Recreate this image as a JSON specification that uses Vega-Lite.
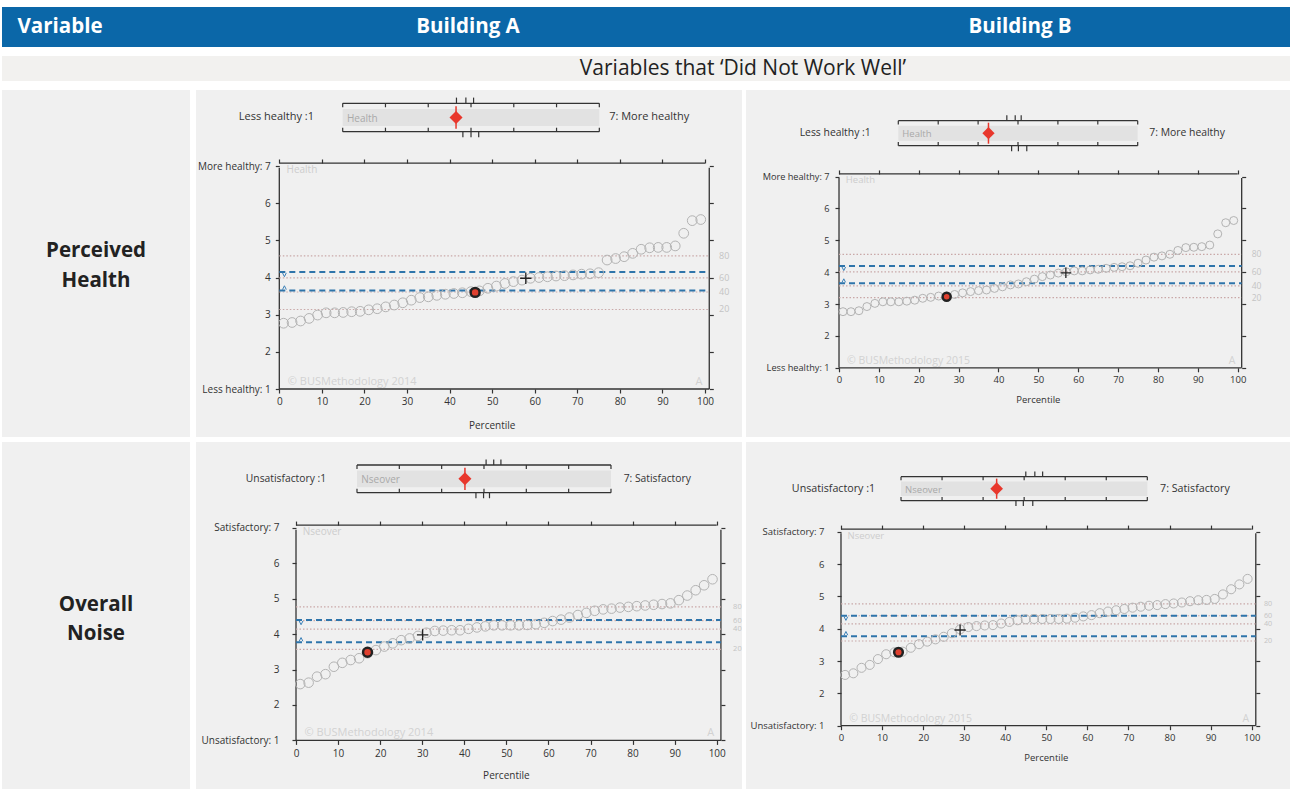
{
"$schema": "https://vega.github.io/schema/vega-lite/v6.json",
"background": "#ffffff",
"padding": {"left": 2, "top": 7, "right": 2, "bottom": 0},
"config": {"view": {"stroke": null}, "font": "Open Sans", "text": {"font": "Open Sans"}, "axis": {"labelFont": "Open Sans", "titleFont": "Open Sans"}},
"datasets": {
"ticks7": [{"t":1},{"t":2},{"t":3},{"t":4},{"t":5},{"t":6},{"t":7}],
"c1a": [{"p":1,"v":2.77},{"p":3,"v":2.79},{"p":5,"v":2.83},{"p":7,"v":2.90},{"p":9,"v":2.99},{"p":11,"v":3.05},{"p":13,"v":3.05},{"p":15,"v":3.06},{"p":17,"v":3.08},{"p":19,"v":3.09},{"p":21,"v":3.13},{"p":23,"v":3.16},{"p":25,"v":3.21},{"p":27,"v":3.26},{"p":29,"v":3.32},{"p":31,"v":3.39},{"p":33,"v":3.46},{"p":35,"v":3.48},{"p":37,"v":3.52},{"p":39,"v":3.55},{"p":41,"v":3.57},{"p":43,"v":3.59},{"p":45,"v":3.62},{"p":47,"v":3.64},{"p":49,"v":3.71},{"p":51,"v":3.77},{"p":53,"v":3.84},{"p":55,"v":3.89},{"p":57,"v":3.93},{"p":59,"v":3.98},{"p":61,"v":4.00},{"p":63,"v":4.02},{"p":65,"v":4.04},{"p":67,"v":4.05},{"p":69,"v":4.07},{"p":71,"v":4.09},{"p":73,"v":4.10},{"p":75,"v":4.13},{"p":77,"v":4.47},{"p":79,"v":4.51},{"p":81,"v":4.56},{"p":83,"v":4.65},{"p":85,"v":4.76},{"p":87,"v":4.80},{"p":89,"v":4.81},{"p":91,"v":4.81},{"p":93,"v":4.85},{"p":95,"v":5.19},{"p":97,"v":5.53},{"p":99,"v":5.56}],
"c1b": [{"p":1,"v":2.76},{"p":3,"v":2.76},{"p":5,"v":2.79},{"p":7,"v":2.92},{"p":9,"v":3.02},{"p":11,"v":3.07},{"p":13,"v":3.07},{"p":15,"v":3.07},{"p":17,"v":3.09},{"p":19,"v":3.12},{"p":21,"v":3.18},{"p":23,"v":3.21},{"p":25,"v":3.25},{"p":27,"v":3.25},{"p":29,"v":3.30},{"p":31,"v":3.35},{"p":33,"v":3.39},{"p":35,"v":3.42},{"p":37,"v":3.44},{"p":39,"v":3.49},{"p":41,"v":3.54},{"p":43,"v":3.60},{"p":45,"v":3.63},{"p":47,"v":3.70},{"p":49,"v":3.78},{"p":51,"v":3.86},{"p":53,"v":3.91},{"p":55,"v":3.97},{"p":57,"v":4.01},{"p":59,"v":4.04},{"p":61,"v":4.04},{"p":63,"v":4.07},{"p":65,"v":4.09},{"p":67,"v":4.12},{"p":69,"v":4.15},{"p":71,"v":4.17},{"p":73,"v":4.20},{"p":75,"v":4.28},{"p":77,"v":4.38},{"p":79,"v":4.47},{"p":81,"v":4.51},{"p":83,"v":4.56},{"p":85,"v":4.68},{"p":87,"v":4.77},{"p":89,"v":4.78},{"p":91,"v":4.80},{"p":93,"v":4.85},{"p":95,"v":5.20},{"p":97,"v":5.55},{"p":99,"v":5.62}],
"c2a": [{"p":1,"v":2.59},{"p":3,"v":2.63},{"p":5,"v":2.80},{"p":7,"v":2.87},{"p":9,"v":3.08},{"p":11,"v":3.19},{"p":13,"v":3.27},{"p":15,"v":3.32},{"p":17,"v":3.46},{"p":19,"v":3.55},{"p":21,"v":3.65},{"p":23,"v":3.74},{"p":25,"v":3.83},{"p":27,"v":3.88},{"p":29,"v":3.95},{"p":31,"v":4.04},{"p":33,"v":4.09},{"p":35,"v":4.10},{"p":37,"v":4.11},{"p":39,"v":4.11},{"p":41,"v":4.15},{"p":43,"v":4.19},{"p":45,"v":4.22},{"p":47,"v":4.25},{"p":49,"v":4.25},{"p":51,"v":4.25},{"p":53,"v":4.25},{"p":55,"v":4.26},{"p":57,"v":4.28},{"p":59,"v":4.32},{"p":61,"v":4.37},{"p":63,"v":4.41},{"p":65,"v":4.47},{"p":67,"v":4.54},{"p":69,"v":4.60},{"p":71,"v":4.66},{"p":73,"v":4.70},{"p":75,"v":4.72},{"p":77,"v":4.75},{"p":79,"v":4.77},{"p":81,"v":4.79},{"p":83,"v":4.81},{"p":85,"v":4.83},{"p":87,"v":4.85},{"p":89,"v":4.87},{"p":91,"v":4.96},{"p":93,"v":5.09},{"p":95,"v":5.24},{"p":97,"v":5.38},{"p":99,"v":5.55}],
"c2b": [{"p":1,"v":2.57},{"p":3,"v":2.62},{"p":5,"v":2.79},{"p":7,"v":2.88},{"p":9,"v":3.06},{"p":11,"v":3.21},{"p":13,"v":3.27},{"p":15,"v":3.29},{"p":17,"v":3.41},{"p":19,"v":3.52},{"p":21,"v":3.60},{"p":23,"v":3.67},{"p":25,"v":3.75},{"p":27,"v":3.86},{"p":29,"v":3.98},{"p":31,"v":4.05},{"p":33,"v":4.08},{"p":35,"v":4.10},{"p":37,"v":4.11},{"p":39,"v":4.16},{"p":41,"v":4.21},{"p":43,"v":4.26},{"p":45,"v":4.29},{"p":47,"v":4.30},{"p":49,"v":4.30},{"p":51,"v":4.30},{"p":53,"v":4.30},{"p":55,"v":4.31},{"p":57,"v":4.34},{"p":59,"v":4.38},{"p":61,"v":4.42},{"p":63,"v":4.48},{"p":65,"v":4.53},{"p":67,"v":4.57},{"p":69,"v":4.61},{"p":71,"v":4.65},{"p":73,"v":4.68},{"p":75,"v":4.71},{"p":77,"v":4.73},{"p":79,"v":4.76},{"p":81,"v":4.78},{"p":83,"v":4.81},{"p":85,"v":4.85},{"p":87,"v":4.88},{"p":89,"v":4.89},{"p":91,"v":4.92},{"p":93,"v":5.06},{"p":95,"v":5.22},{"p":97,"v":5.37},{"p":99,"v":5.54}]
},
"spacing": 9,
"vconcat": [
{"spacing": 0, "hconcat": [
 {"width": 116, "height": 40, "view": {"fill": "#0b67a8", "stroke": null}, "data": {"values": [{"t": "Variable"}]}, "mark": {"type": "text", "color": "#ffffff", "fontSize": 20.5, "fontWeight": "bold"}, "encoding": {"text": {"field": "t"}}},
 {"width": 700, "height": 40, "view": {"fill": "#0b67a8", "stroke": null}, "data": {"values": [{"t": "Building A"}]}, "mark": {"type": "text", "color": "#ffffff", "fontSize": 20.5, "fontWeight": "bold"}, "encoding": {"text": {"field": "t"}}},
 {"width": 404, "height": 40, "view": {"fill": "#0b67a8", "stroke": null}, "data": {"values": [{"t": "Building B"}]}, "mark": {"type": "text", "color": "#ffffff", "fontSize": 20.5, "fontWeight": "bold"}, "encoding": {"text": {"field": "t"}}},
 {"width": 68, "height": 40, "view": {"fill": "#0b67a8", "stroke": null}, "data": {"values": [{"t": ""}]}, "mark": {"type": "text", "color": "#ffffff"}, "encoding": {"text": {"field": "t"}}}
]},
{"spacing": 0, "hconcat": [
 {"width": 194, "height": 25, "view": {"fill": "#f2f1ef", "stroke": null}, "data": {"values": [{"t": ""}]}, "mark": {"type": "text"}, "encoding": {"text": {"field": "t"}}},
 {"width": 1094, "height": 25, "view": {"fill": "#f2f1ef", "stroke": null}, "data": {"values": [{"t": "Variables that ‘Did Not Work Well’"}]}, "mark": {"type": "text", "color": "#222222", "fontSize": 21}, "encoding": {"text": {"field": "t"}}}
]},
{"spacing": 5, "vconcat": [
 {"spacing": 6, "hconcat": [
  {"width": 188, "height": 347, "view": {"fill": "#f0f0f0", "stroke": null}, "data": {"values": [{"t": ["Perceived", "Health"]}]}, "mark": {"type": "text", "color": "#222222", "fontSize": 20.5, "fontWeight": "bold", "lineHeight": 30, "dy": -13}, "encoding": {"text": {"field": "t"}}},
  {"spacing": 4, "hconcat": [
   {"spacing": 0, "vconcat": [
    {"width": 546, "height": 62, "view": {"fill": "#f0f0f0", "stroke": null},
     "data": {"values": [{"m": 3.65, "lo": "Less healthy :1", "hi": "7: More healthy", "var": "Health"}]},
     "layer": [
      {"mark": {"type": "rect", "color": "#e2e2e2"}, "encoding": {"x": {"datum": 1, "type": "quantitative", "scale": {"domain": [-2.43, 10.336], "nice": false, "zero": false}, "axis": null}, "x2": {"datum": 7}, "y": {"datum": 0.2, "type": "quantitative", "scale": {"domain": [-0.715, 1.468], "nice": false, "zero": false}, "axis": null}, "y2": {"datum": 0.8}}},
      {"mark": {"type": "rule", "color": "#333333", "strokeWidth": 1.3}, "encoding": {"x": {"datum": 1, "type": "quantitative", "axis": null}, "x2": {"datum": 7}, "y": {"datum": 1, "type": "quantitative", "axis": null}}},
      {"mark": {"type": "rule", "color": "#333333", "strokeWidth": 1.3}, "encoding": {"x": {"datum": 1, "type": "quantitative", "axis": null}, "x2": {"datum": 7}, "y": {"datum": 0, "type": "quantitative", "axis": null}}},
      {"data": {"name": "ticks7"}, "mark": {"type": "rule", "color": "#333333", "strokeWidth": 1.2}, "encoding": {"x": {"field": "t", "type": "quantitative", "axis": null}, "y": {"datum": 1, "type": "quantitative", "axis": null}, "y2": {"datum": 0.86}}},
      {"data": {"name": "ticks7"}, "mark": {"type": "rule", "color": "#333333", "strokeWidth": 1.2}, "encoding": {"x": {"field": "t", "type": "quantitative", "axis": null}, "y": {"datum": 0, "type": "quantitative", "axis": null}, "y2": {"datum": 0.14}}},
      {"data": {"values": [{"v": 3.66}, {"v": 3.88}, {"v": 4.06}]}, "mark": {"type": "rule", "color": "#333333", "strokeWidth": 1.2}, "encoding": {"x": {"field": "v", "type": "quantitative", "axis": null}, "y": {"datum": 1, "type": "quantitative", "axis": null}, "y2": {"datum": 1.2}}},
      {"data": {"values": [{"v": 3.81}, {"v": 4.0}, {"v": 4.18}]}, "mark": {"type": "rule", "color": "#333333", "strokeWidth": 1.2}, "encoding": {"x": {"field": "v", "type": "quantitative", "axis": null}, "y": {"datum": 0, "type": "quantitative", "axis": null}, "y2": {"datum": -0.2}}},
      {"mark": {"type": "rule", "color": "#e8372c", "strokeWidth": 1.5}, "encoding": {"x": {"field": "m", "type": "quantitative", "axis": null}, "y": {"datum": 0.1, "type": "quantitative", "axis": null}, "y2": {"datum": 0.9}}},
      {"mark": {"type": "point", "shape": "diamond", "filled": true, "color": "#e8372c", "size": 170, "opacity": 1}, "encoding": {"x": {"field": "m", "type": "quantitative", "axis": null}, "y": {"datum": 0.5, "type": "quantitative", "axis": null}}},
      {"mark": {"type": "text", "align": "right", "fontSize": 11, "color": "#333333"}, "encoding": {"x": {"datum": 0.33, "type": "quantitative", "axis": null}, "y": {"datum": 0.5, "type": "quantitative", "axis": null}, "text": {"field": "lo"}}},
      {"mark": {"type": "text", "align": "left", "fontSize": 11, "color": "#333333"}, "encoding": {"x": {"datum": 7.23, "type": "quantitative", "axis": null}, "y": {"datum": 0.5, "type": "quantitative", "axis": null}, "text": {"field": "hi"}}},
      {"mark": {"type": "text", "align": "left", "fontSize": 10, "color": "#a9a9a9"}, "encoding": {"x": {"datum": 1.1, "type": "quantitative", "axis": null}, "y": {"datum": 0.45, "type": "quantitative", "axis": null}, "text": {"field": "var"}}}
     ]},
    {"width": 546, "height": 285, "view": {"fill": "#f0f0f0", "stroke": null},
     "data": {"values": [{"var": "Health", "copy": "© BUSMethodology 2014", "corner": "A", "xt": "Percentile"}]},
     "resolve": {"axis": {"x": "independent", "y": "independent"}},
     "layer": [
      {"mark": {"type": "rule", "color": "#333333", "strokeWidth": 1.3}, "encoding": {
        "x": {"datum": 0, "type": "quantitative", "scale": {"domain": [-19.57, 108.69], "nice": false, "zero": false}, "axis": {"orient": "bottom", "offset": -48, "values": [0,10,20,30,40,50,60,70,80,90,100], "domain": false, "grid": false, "title": null, "tickSize": 4, "tickColor": "#333333", "tickWidth": 1.2, "labelFontSize": 10, "labelColor": "#333333", "labelPadding": 3, "labelOverlap": false, "labelFlush": false}},
        "y": {"datum": 1, "type": "quantitative", "scale": {"domain": [-0.291, 7.377], "nice": false, "zero": false}, "axis": {"orient": "left", "offset": -83.3, "values": [1,2,3,4,5,6,7], "labelExpr": "datum.value == 7 ? 'More healthy: 7' : datum.value == 1 ? 'Less healthy: 1' : datum.label", "domain": false, "grid": false, "title": null, "tickSize": 4, "tickColor": "#333333", "tickWidth": 1.2, "labelFontSize": 10, "labelColor": "#333333", "labelPadding": 5, "labelOverlap": false}},
        "y2": {"datum": 6.95}}},
      {"mark": {"type": "rule", "color": "#333333", "strokeWidth": 1.3}, "encoding": {
        "x": {"datum": 101, "type": "quantitative", "axis": {"orient": "top", "offset": -11, "values": [0,10,20,30,40,50,60,70,80,90,100], "labels": false, "domain": false, "grid": false, "title": null, "tickSize": 4, "tickColor": "#333333", "tickWidth": 1.2}},
        "y": {"datum": 1, "type": "quantitative", "axis": {"orient": "right", "offset": -32.7, "values": [1,2,3,4,5,6,7], "labels": false, "domain": false, "grid": false, "title": null, "tickSize": 4, "tickColor": "#333333", "tickWidth": 1.2}},
        "y2": {"datum": 6.95}}},
      {"mark": {"type": "rule", "color": "#333333", "strokeWidth": 1.3}, "encoding": {"x": {"datum": 0, "type": "quantitative", "axis": null}, "x2": {"datum": 101}, "y": {"datum": 1, "type": "quantitative", "axis": null}}},
      {"mark": {"type": "rule", "color": "#333333", "strokeWidth": 1.3}, "encoding": {"x": {"datum": 0, "type": "quantitative", "axis": null}, "x2": {"datum": 100}, "y": {"datum": 7.08, "type": "quantitative", "axis": null}}},
      {"data": {"values": [{"pct": "80", "v": 4.58}, {"pct": "60", "v": 3.99}, {"pct": "40", "v": 3.61}, {"pct": "20", "v": 3.14}]}, "layer": [
        {"mark": {"type": "rule", "color": "#c9a8a8", "strokeWidth": 1.2, "strokeDash": [1.5, 2]}, "encoding": {"x": {"datum": 0, "type": "quantitative", "axis": null}, "x2": {"datum": 101}, "y": {"field": "v", "type": "quantitative", "axis": null}}},
        {"mark": {"type": "text", "align": "left", "fontSize": 9, "color": "#c4c4c4", "clip": true}, "encoding": {"x": {"datum": 103.3, "type": "quantitative", "axis": null}, "y": {"field": "v", "type": "quantitative", "axis": null}, "text": {"field": "pct"}}}
      ]},
      {"data": {"values": [{"v": 4.15, "dir": "upper"}, {"v": 3.65, "dir": "lower"}]}, "layer": [
        {"mark": {"type": "rule", "color": "#2e74aa", "strokeWidth": 2, "strokeDash": [6, 4]}, "encoding": {"x": {"datum": 0, "type": "quantitative", "axis": null}, "x2": {"datum": 101}, "y": {"field": "v", "type": "quantitative", "axis": null}}},
        {"mark": {"type": "point", "filled": false, "color": "#3a80b8", "size": 40, "strokeWidth": 1, "opacity": 1}, "encoding": {"x": {"datum": 1.2, "type": "quantitative", "axis": null}, "y": {"field": "v", "type": "quantitative", "axis": null}, "shape": {"field": "dir", "type": "nominal", "scale": {"domain": ["upper", "lower"], "range": ["M-0.6,0.3L0,1.5L0.6,0.3", "M-0.6,-0.3L0,-1.5L0.6,-0.3"]}, "legend": null}}}
      ]},
      {"data": {"name": "c1a"}, "mark": {"type": "point", "shape": "circle", "filled": false, "color": "#b3b3b3", "size": 95, "strokeWidth": 1, "opacity": 1}, "encoding": {"x": {"field": "p", "type": "quantitative", "axis": null}, "y": {"field": "v", "type": "quantitative", "axis": null}}},
      {"data": {"values": [{"p": 46, "v": 3.60}]}, "mark": {"type": "point", "shape": "circle", "filled": true, "fill": "#e0402f", "stroke": "#222222", "strokeWidth": 2.5, "size": 80, "opacity": 1}, "encoding": {"x": {"field": "p", "type": "quantitative", "axis": null}, "y": {"field": "v", "type": "quantitative", "axis": null}}},
      {"data": {"values": [{"p": 57.9, "v": 3.98}]}, "mark": {"type": "point", "shape": "M-1,0L1,0M0,-1L0,1", "filled": false, "color": "#222222", "size": 130, "strokeWidth": 1.3, "opacity": 1}, "encoding": {"x": {"field": "p", "type": "quantitative", "axis": null}, "y": {"field": "v", "type": "quantitative", "axis": null}}},
      {"mark": {"type": "text", "align": "left", "fontSize": 10, "color": "#cdcdcd"}, "encoding": {"x": {"datum": 1.7, "type": "quantitative", "axis": null}, "y": {"datum": 6.88, "type": "quantitative", "axis": null}, "text": {"field": "var"}}},
      {"mark": {"type": "text", "align": "left", "fontSize": 11, "color": "#d2d2d2"}, "encoding": {"x": {"datum": 2, "type": "quantitative", "axis": null}, "y": {"datum": 1.2, "type": "quantitative", "axis": null}, "text": {"field": "copy"}}},
      {"mark": {"type": "text", "align": "center", "fontSize": 11, "color": "#d2d2d2"}, "encoding": {"x": {"datum": 98.6, "type": "quantitative", "axis": null}, "y": {"datum": 1.2, "type": "quantitative", "axis": null}, "text": {"field": "corner"}}},
      {"mark": {"type": "text", "align": "center", "fontSize": 10, "color": "#333333"}, "encoding": {"x": {"datum": 50, "type": "quantitative", "axis": null}, "y": {"datum": 0, "type": "quantitative", "axis": null}, "text": {"field": "xt"}}}
     ]}
   ]},
   {"spacing": 0, "vconcat": [
    {"width": 544, "height": 72, "view": {"fill": "#f0f0f0", "stroke": null},
     "data": {"values": [{"m": 3.26, "lo": "Less healthy :1", "hi": "7: More healthy", "var": "Health"}]},
     "layer": [
      {"mark": {"type": "rect", "color": "#e2e2e2"}, "encoding": {"x": {"datum": 1, "type": "quantitative", "scale": {"domain": [-2.817, 10.817], "nice": false, "zero": false}, "axis": null}, "x2": {"datum": 7}, "y": {"datum": 0.2, "type": "quantitative", "scale": {"domain": [-0.652, 2.228], "nice": false, "zero": false}, "axis": null}, "y2": {"datum": 0.8}}},
      {"mark": {"type": "rule", "color": "#333333", "strokeWidth": 1.3}, "encoding": {"x": {"datum": 1, "type": "quantitative", "axis": null}, "x2": {"datum": 7}, "y": {"datum": 1, "type": "quantitative", "axis": null}}},
      {"mark": {"type": "rule", "color": "#333333", "strokeWidth": 1.3}, "encoding": {"x": {"datum": 1, "type": "quantitative", "axis": null}, "x2": {"datum": 7}, "y": {"datum": 0, "type": "quantitative", "axis": null}}},
      {"data": {"name": "ticks7"}, "mark": {"type": "rule", "color": "#333333", "strokeWidth": 1.2}, "encoding": {"x": {"field": "t", "type": "quantitative", "axis": null}, "y": {"datum": 1, "type": "quantitative", "axis": null}, "y2": {"datum": 0.85}}},
      {"data": {"name": "ticks7"}, "mark": {"type": "rule", "color": "#333333", "strokeWidth": 1.2}, "encoding": {"x": {"field": "t", "type": "quantitative", "axis": null}, "y": {"datum": 0, "type": "quantitative", "axis": null}, "y2": {"datum": 0.15}}},
      {"data": {"values": [{"v": 3.72}, {"v": 3.93}, {"v": 4.08}]}, "mark": {"type": "rule", "color": "#333333", "strokeWidth": 1.2}, "encoding": {"x": {"field": "v", "type": "quantitative", "axis": null}, "y": {"datum": 1, "type": "quantitative", "axis": null}, "y2": {"datum": 1.22}}},
      {"data": {"values": [{"v": 3.84}, {"v": 4.01}, {"v": 4.22}]}, "mark": {"type": "rule", "color": "#333333", "strokeWidth": 1.2}, "encoding": {"x": {"field": "v", "type": "quantitative", "axis": null}, "y": {"datum": 0, "type": "quantitative", "axis": null}, "y2": {"datum": -0.22}}},
      {"mark": {"type": "rule", "color": "#e8372c", "strokeWidth": 1.5}, "encoding": {"x": {"field": "m", "type": "quantitative", "axis": null}, "y": {"datum": 0.08, "type": "quantitative", "axis": null}, "y2": {"datum": 0.92}}},
      {"mark": {"type": "point", "shape": "diamond", "filled": true, "color": "#e8372c", "size": 150, "opacity": 1}, "encoding": {"x": {"field": "m", "type": "quantitative", "axis": null}, "y": {"datum": 0.5, "type": "quantitative", "axis": null}}},
      {"mark": {"type": "text", "align": "right", "fontSize": 10.4, "color": "#333333"}, "encoding": {"x": {"datum": 0.31, "type": "quantitative", "axis": null}, "y": {"datum": 0.5, "type": "quantitative", "axis": null}, "text": {"field": "lo"}}},
      {"mark": {"type": "text", "align": "left", "fontSize": 10.4, "color": "#333333"}, "encoding": {"x": {"datum": 7.29, "type": "quantitative", "axis": null}, "y": {"datum": 0.5, "type": "quantitative", "axis": null}, "text": {"field": "hi"}}},
      {"mark": {"type": "text", "align": "left", "fontSize": 9.5, "color": "#a9a9a9"}, "encoding": {"x": {"datum": 1.1, "type": "quantitative", "axis": null}, "y": {"datum": 0.45, "type": "quantitative", "axis": null}, "text": {"field": "var"}}}
     ]},
    {"width": 544, "height": 275, "view": {"fill": "#f0f0f0", "stroke": null},
     "data": {"values": [{"var": "Health", "copy": "© BUSMethodology 2015", "corner": "A", "xt": "Percentile"}]},
     "resolve": {"axis": {"x": "independent", "y": "independent"}},
     "layer": [
      {"mark": {"type": "rule", "color": "#333333", "strokeWidth": 1.3}, "encoding": {
        "x": {"datum": 0, "type": "quantitative", "scale": {"domain": [-23.33, 113.12], "nice": false, "zero": false}, "axis": {"orient": "bottom", "offset": -69.2, "values": [0,10,20,30,40,50,60,70,80,90,100], "domain": false, "grid": false, "title": null, "tickSize": 4, "tickColor": "#333333", "tickWidth": 1.2, "labelFontSize": 9.5, "labelColor": "#333333", "labelPadding": 3, "labelOverlap": false, "labelFlush": false}},
        "y": {"datum": 1, "type": "quantitative", "scale": {"domain": [-1.171, 7.455], "nice": false, "zero": false}, "axis": {"orient": "left", "offset": -93, "values": [1,2,3,4,5,6,7], "labelExpr": "datum.value == 7 ? 'More healthy: 7' : datum.value == 1 ? 'Less healthy: 1' : datum.label", "domain": false, "grid": false, "title": null, "tickSize": 4, "tickColor": "#333333", "tickWidth": 1.2, "labelFontSize": 9.2, "labelColor": "#333333", "labelPadding": 6, "labelOverlap": false}},
        "y2": {"datum": 6.95}}},
      {"mark": {"type": "rule", "color": "#333333", "strokeWidth": 1.3}, "encoding": {
        "x": {"datum": 101, "type": "quantitative", "axis": {"orient": "top", "offset": -11.95, "values": [0,10,20,30,40,50,60,70,80,90,100], "labels": false, "domain": false, "grid": false, "title": null, "tickSize": 4, "tickColor": "#333333", "tickWidth": 1.2}},
        "y": {"datum": 1, "type": "quantitative", "axis": {"orient": "right", "offset": -48.3, "values": [1,2,3,4,5,6,7], "labels": false, "domain": false, "grid": false, "title": null, "tickSize": 4, "tickColor": "#333333", "tickWidth": 1.2}},
        "y2": {"datum": 6.95}}},
      {"mark": {"type": "rule", "color": "#333333", "strokeWidth": 1.3}, "encoding": {"x": {"datum": 0, "type": "quantitative", "axis": null}, "x2": {"datum": 101}, "y": {"datum": 1, "type": "quantitative", "axis": null}}},
      {"mark": {"type": "rule", "color": "#333333", "strokeWidth": 1.3}, "encoding": {"x": {"datum": 0, "type": "quantitative", "axis": null}, "x2": {"datum": 100}, "y": {"datum": 7.08, "type": "quantitative", "axis": null}}},
      {"data": {"values": [{"pct": "80", "v": 4.56}, {"pct": "60", "v": 4.01}, {"pct": "40", "v": 3.57}, {"pct": "20", "v": 3.20}]}, "layer": [
        {"mark": {"type": "rule", "color": "#c9a8a8", "strokeWidth": 1.2, "strokeDash": [1.5, 2]}, "encoding": {"x": {"datum": 0, "type": "quantitative", "axis": null}, "x2": {"datum": 101}, "y": {"field": "v", "type": "quantitative", "axis": null}}},
        {"mark": {"type": "text", "align": "left", "fontSize": 8.5, "color": "#c4c4c4", "clip": true}, "encoding": {"x": {"datum": 103.5, "type": "quantitative", "axis": null}, "y": {"field": "v", "type": "quantitative", "axis": null}, "text": {"field": "pct"}}}
      ]},
      {"data": {"values": [{"v": 4.19, "dir": "upper"}, {"v": 3.65, "dir": "lower"}]}, "layer": [
        {"mark": {"type": "rule", "color": "#2e74aa", "strokeWidth": 2, "strokeDash": [6, 4]}, "encoding": {"x": {"datum": 0, "type": "quantitative", "axis": null}, "x2": {"datum": 101}, "y": {"field": "v", "type": "quantitative", "axis": null}}},
        {"mark": {"type": "point", "filled": false, "color": "#3a80b8", "size": 36, "strokeWidth": 1, "opacity": 1}, "encoding": {"x": {"datum": 1.2, "type": "quantitative", "axis": null}, "y": {"field": "v", "type": "quantitative", "axis": null}, "shape": {"field": "dir", "type": "nominal", "scale": {"domain": ["upper", "lower"], "range": ["M-0.6,0.3L0,1.5L0.6,0.3", "M-0.6,-0.3L0,-1.5L0.6,-0.3"]}, "legend": null}}}
      ]},
      {"data": {"name": "c1b"}, "mark": {"type": "point", "shape": "circle", "filled": false, "color": "#b3b3b3", "size": 64, "strokeWidth": 1, "opacity": 1}, "encoding": {"x": {"field": "p", "type": "quantitative", "axis": null}, "y": {"field": "v", "type": "quantitative", "axis": null}}},
      {"data": {"values": [{"p": 27, "v": 3.23}]}, "mark": {"type": "point", "shape": "circle", "filled": true, "fill": "#e0402f", "stroke": "#222222", "strokeWidth": 2.5, "size": 65, "opacity": 1}, "encoding": {"x": {"field": "p", "type": "quantitative", "axis": null}, "y": {"field": "v", "type": "quantitative", "axis": null}}},
      {"data": {"values": [{"p": 56.9, "v": 3.98}]}, "mark": {"type": "point", "shape": "M-1,0L1,0M0,-1L0,1", "filled": false, "color": "#222222", "size": 110, "strokeWidth": 1.3, "opacity": 1}, "encoding": {"x": {"field": "p", "type": "quantitative", "axis": null}, "y": {"field": "v", "type": "quantitative", "axis": null}}},
      {"mark": {"type": "text", "align": "left", "fontSize": 9.5, "color": "#cdcdcd"}, "encoding": {"x": {"datum": 1.7, "type": "quantitative", "axis": null}, "y": {"datum": 6.88, "type": "quantitative", "axis": null}, "text": {"field": "var"}}},
      {"mark": {"type": "text", "align": "left", "fontSize": 10.5, "color": "#d2d2d2"}, "encoding": {"x": {"datum": 2, "type": "quantitative", "axis": null}, "y": {"datum": 1.2, "type": "quantitative", "axis": null}, "text": {"field": "copy"}}},
      {"mark": {"type": "text", "align": "center", "fontSize": 10.5, "color": "#d2d2d2"}, "encoding": {"x": {"datum": 98.6, "type": "quantitative", "axis": null}, "y": {"datum": 1.2, "type": "quantitative", "axis": null}, "text": {"field": "corner"}}},
      {"mark": {"type": "text", "align": "center", "fontSize": 9.5, "color": "#333333"}, "encoding": {"x": {"datum": 50, "type": "quantitative", "axis": null}, "y": {"datum": 0, "type": "quantitative", "axis": null}, "text": {"field": "xt"}}}
     ]}
   ]}
  ]}
 ]},
 {"spacing": 6, "hconcat": [
  {"width": 188, "height": 347, "view": {"fill": "#f0f0f0", "stroke": null}, "data": {"values": [{"t": ["Overall", "Noise"]}]}, "mark": {"type": "text", "color": "#222222", "fontSize": 20.5, "fontWeight": "bold", "lineHeight": 29, "dy": -11}, "encoding": {"text": {"field": "t"}}},
  {"spacing": 4, "hconcat": [
   {"spacing": 0, "vconcat": [
    {"width": 546, "height": 66, "view": {"fill": "#f0f0f0", "stroke": null},
     "data": {"values": [{"m": 3.55, "lo": "Unsatisfactory :1", "hi": "7: Satisfactory", "var": "Nseover"}]},
     "layer": [
      {"mark": {"type": "rect", "color": "#e2e2e2"}, "encoding": {"x": {"datum": 1, "type": "quantitative", "scale": {"domain": [-2.803, 10.095], "nice": false, "zero": false}, "axis": null}, "x2": {"datum": 7}, "y": {"datum": 0.2, "type": "quantitative", "scale": {"domain": [-0.552, 1.83], "nice": false, "zero": false}, "axis": null}, "y2": {"datum": 0.8}}},
      {"mark": {"type": "rule", "color": "#333333", "strokeWidth": 1.3}, "encoding": {"x": {"datum": 1, "type": "quantitative", "axis": null}, "x2": {"datum": 7}, "y": {"datum": 1, "type": "quantitative", "axis": null}}},
      {"mark": {"type": "rule", "color": "#333333", "strokeWidth": 1.3}, "encoding": {"x": {"datum": 1, "type": "quantitative", "axis": null}, "x2": {"datum": 7}, "y": {"datum": 0, "type": "quantitative", "axis": null}}},
      {"data": {"name": "ticks7"}, "mark": {"type": "rule", "color": "#333333", "strokeWidth": 1.2}, "encoding": {"x": {"field": "t", "type": "quantitative", "axis": null}, "y": {"datum": 1, "type": "quantitative", "axis": null}, "y2": {"datum": 0.86}}},
      {"data": {"name": "ticks7"}, "mark": {"type": "rule", "color": "#333333", "strokeWidth": 1.2}, "encoding": {"x": {"field": "t", "type": "quantitative", "axis": null}, "y": {"datum": 0, "type": "quantitative", "axis": null}, "y2": {"datum": 0.14}}},
      {"data": {"values": [{"v": 4.05}, {"v": 4.23}, {"v": 4.40}]}, "mark": {"type": "rule", "color": "#333333", "strokeWidth": 1.2}, "encoding": {"x": {"field": "v", "type": "quantitative", "axis": null}, "y": {"datum": 1, "type": "quantitative", "axis": null}, "y2": {"datum": 1.2}}},
      {"data": {"values": [{"v": 3.81}, {"v": 3.99}, {"v": 4.13}]}, "mark": {"type": "rule", "color": "#333333", "strokeWidth": 1.2}, "encoding": {"x": {"field": "v", "type": "quantitative", "axis": null}, "y": {"datum": 0, "type": "quantitative", "axis": null}, "y2": {"datum": -0.2}}},
      {"mark": {"type": "rule", "color": "#e8372c", "strokeWidth": 1.5}, "encoding": {"x": {"field": "m", "type": "quantitative", "axis": null}, "y": {"datum": 0.1, "type": "quantitative", "axis": null}, "y2": {"datum": 0.9}}},
      {"mark": {"type": "point", "shape": "diamond", "filled": true, "color": "#e8372c", "size": 170, "opacity": 1}, "encoding": {"x": {"field": "m", "type": "quantitative", "axis": null}, "y": {"datum": 0.5, "type": "quantitative", "axis": null}}},
      {"mark": {"type": "text", "align": "right", "fontSize": 10.3, "color": "#333333"}, "encoding": {"x": {"datum": 0.27, "type": "quantitative", "axis": null}, "y": {"datum": 0.5, "type": "quantitative", "axis": null}, "text": {"field": "lo"}}},
      {"mark": {"type": "text", "align": "left", "fontSize": 10.3, "color": "#333333"}, "encoding": {"x": {"datum": 7.3, "type": "quantitative", "axis": null}, "y": {"datum": 0.5, "type": "quantitative", "axis": null}, "text": {"field": "hi"}}},
      {"mark": {"type": "text", "align": "left", "fontSize": 10, "color": "#a9a9a9"}, "encoding": {"x": {"datum": 1.1, "type": "quantitative", "axis": null}, "y": {"datum": 0.45, "type": "quantitative", "axis": null}, "text": {"field": "var"}}}
     ]},
    {"width": 546, "height": 281, "view": {"fill": "#f0f0f0", "stroke": null},
     "data": {"values": [{"var": "Nseover", "copy": "© BUSMethodology 2014", "corner": "A", "xt": "Percentile"}]},
     "resolve": {"axis": {"x": "independent", "y": "independent"}},
     "layer": [
      {"mark": {"type": "rule", "color": "#333333", "strokeWidth": 1.3}, "encoding": {
        "x": {"datum": 0, "type": "quantitative", "scale": {"domain": [-23.77, 106.01], "nice": false, "zero": false}, "axis": {"orient": "bottom", "offset": -48.6, "values": [0,10,20,30,40,50,60,70,80,90,100], "domain": false, "grid": false, "title": null, "tickSize": 4, "tickColor": "#333333", "tickWidth": 1.2, "labelFontSize": 10, "labelColor": "#333333", "labelPadding": 4, "labelOverlap": false, "labelFlush": false}},
        "y": {"datum": 1, "type": "quantitative", "scale": {"domain": [-0.372, 7.562], "nice": false, "zero": false}, "axis": {"orient": "left", "offset": -100, "values": [1,2,3,4,5,6,7], "labelExpr": "datum.value == 7 ? 'Satisfactory: 7' : datum.value == 1 ? 'Unsatisfactory: 1' : datum.label", "domain": false, "grid": false, "title": null, "tickSize": 4, "tickColor": "#333333", "tickWidth": 1.2, "labelFontSize": 10, "labelColor": "#333333", "labelPadding": 13, "labelOverlap": false}},
        "y2": {"datum": 6.95}}},
      {"mark": {"type": "rule", "color": "#333333", "strokeWidth": 1.3}, "encoding": {
        "x": {"datum": 101, "type": "quantitative", "axis": {"orient": "top", "offset": -17.07, "values": [0,10,20,30,40,50,60,70,80,90,100], "labels": false, "domain": false, "grid": false, "title": null, "tickSize": 4, "tickColor": "#333333", "tickWidth": 1.2}},
        "y": {"datum": 1, "type": "quantitative", "axis": {"orient": "right", "offset": -21.1, "values": [1,2,3,4,5,6,7], "labels": false, "domain": false, "grid": false, "title": null, "tickSize": 4, "tickColor": "#333333", "tickWidth": 1.2}},
        "y2": {"datum": 6.95}}},
      {"mark": {"type": "rule", "color": "#333333", "strokeWidth": 1.3}, "encoding": {"x": {"datum": 0, "type": "quantitative", "axis": null}, "x2": {"datum": 101}, "y": {"datum": 1, "type": "quantitative", "axis": null}}},
      {"mark": {"type": "rule", "color": "#333333", "strokeWidth": 1.3}, "encoding": {"x": {"datum": 0, "type": "quantitative", "axis": null}, "x2": {"datum": 100}, "y": {"datum": 7.08, "type": "quantitative", "axis": null}}},
      {"data": {"values": [{"pct": "80", "v": 4.77}, {"pct": "60", "v": 4.38}, {"pct": "40", "v": 4.14}, {"pct": "20", "v": 3.57}]}, "layer": [
        {"mark": {"type": "rule", "color": "#c9a8a8", "strokeWidth": 1.2, "strokeDash": [1.5, 2]}, "encoding": {"x": {"datum": 0, "type": "quantitative", "axis": null}, "x2": {"datum": 101}, "y": {"field": "v", "type": "quantitative", "axis": null}}},
        {"mark": {"type": "text", "align": "left", "fontSize": 7.5, "color": "#c4c4c4", "clip": true}, "encoding": {"x": {"datum": 103.9, "type": "quantitative", "axis": null}, "y": {"field": "v", "type": "quantitative", "axis": null}, "text": {"field": "pct"}}}
      ]},
      {"data": {"values": [{"v": 4.40, "dir": "upper"}, {"v": 3.77, "dir": "lower"}]}, "layer": [
        {"mark": {"type": "rule", "color": "#2e74aa", "strokeWidth": 2, "strokeDash": [6, 4]}, "encoding": {"x": {"datum": 0, "type": "quantitative", "axis": null}, "x2": {"datum": 101}, "y": {"field": "v", "type": "quantitative", "axis": null}}},
        {"mark": {"type": "point", "filled": false, "color": "#3a80b8", "size": 40, "strokeWidth": 1, "opacity": 1}, "encoding": {"x": {"datum": 1.2, "type": "quantitative", "axis": null}, "y": {"field": "v", "type": "quantitative", "axis": null}, "shape": {"field": "dir", "type": "nominal", "scale": {"domain": ["upper", "lower"], "range": ["M-0.6,0.3L0,1.5L0.6,0.3", "M-0.6,-0.3L0,-1.5L0.6,-0.3"]}, "legend": null}}}
      ]},
      {"data": {"name": "c2a"}, "mark": {"type": "point", "shape": "circle", "filled": false, "color": "#b3b3b3", "size": 92, "strokeWidth": 1, "opacity": 1}, "encoding": {"x": {"field": "p", "type": "quantitative", "axis": null}, "y": {"field": "v", "type": "quantitative", "axis": null}}},
      {"data": {"values": [{"p": 17, "v": 3.49}]}, "mark": {"type": "point", "shape": "circle", "filled": true, "fill": "#e0402f", "stroke": "#222222", "strokeWidth": 2.5, "size": 80, "opacity": 1}, "encoding": {"x": {"field": "p", "type": "quantitative", "axis": null}, "y": {"field": "v", "type": "quantitative", "axis": null}}},
      {"data": {"values": [{"p": 30.1, "v": 3.98}]}, "mark": {"type": "point", "shape": "M-1,0L1,0M0,-1L0,1", "filled": false, "color": "#222222", "size": 130, "strokeWidth": 1.3, "opacity": 1}, "encoding": {"x": {"field": "p", "type": "quantitative", "axis": null}, "y": {"field": "v", "type": "quantitative", "axis": null}}},
      {"mark": {"type": "text", "align": "left", "fontSize": 10, "color": "#cdcdcd"}, "encoding": {"x": {"datum": 1.6, "type": "quantitative", "axis": null}, "y": {"datum": 6.88, "type": "quantitative", "axis": null}, "text": {"field": "var"}}},
      {"mark": {"type": "text", "align": "left", "fontSize": 11, "color": "#d2d2d2"}, "encoding": {"x": {"datum": 2, "type": "quantitative", "axis": null}, "y": {"datum": 1.2, "type": "quantitative", "axis": null}, "text": {"field": "copy"}}},
      {"mark": {"type": "text", "align": "center", "fontSize": 11, "color": "#d2d2d2"}, "encoding": {"x": {"datum": 98.6, "type": "quantitative", "axis": null}, "y": {"datum": 1.2, "type": "quantitative", "axis": null}, "text": {"field": "corner"}}},
      {"mark": {"type": "text", "align": "center", "fontSize": 10, "color": "#333333"}, "encoding": {"x": {"datum": 50, "type": "quantitative", "axis": null}, "y": {"datum": 0, "type": "quantitative", "axis": null}, "text": {"field": "xt"}}}
     ]}
   ]},
   {"spacing": 0, "vconcat": [
    {"width": 544, "height": 70, "view": {"fill": "#f0f0f0", "stroke": null},
     "data": {"values": [{"m": 3.33, "lo": "Unsatisfactory :1", "hi": "7: Satisfactory", "var": "Nseover"}]},
     "layer": [
      {"mark": {"type": "rect", "color": "#e2e2e2"}, "encoding": {"x": {"datum": 1, "type": "quantitative", "scale": {"domain": [-2.776, 10.476], "nice": false, "zero": false}, "axis": null}, "x2": {"datum": 7}, "y": {"datum": 0.2, "type": "quantitative", "scale": {"domain": [-0.471, 2.446], "nice": false, "zero": false}, "axis": null}, "y2": {"datum": 0.8}}},
      {"mark": {"type": "rule", "color": "#333333", "strokeWidth": 1.3}, "encoding": {"x": {"datum": 1, "type": "quantitative", "axis": null}, "x2": {"datum": 7}, "y": {"datum": 1, "type": "quantitative", "axis": null}}},
      {"mark": {"type": "rule", "color": "#333333", "strokeWidth": 1.3}, "encoding": {"x": {"datum": 1, "type": "quantitative", "axis": null}, "x2": {"datum": 7}, "y": {"datum": 0, "type": "quantitative", "axis": null}}},
      {"data": {"name": "ticks7"}, "mark": {"type": "rule", "color": "#333333", "strokeWidth": 1.2}, "encoding": {"x": {"field": "t", "type": "quantitative", "axis": null}, "y": {"datum": 1, "type": "quantitative", "axis": null}, "y2": {"datum": 0.85}}},
      {"data": {"name": "ticks7"}, "mark": {"type": "rule", "color": "#333333", "strokeWidth": 1.2}, "encoding": {"x": {"field": "t", "type": "quantitative", "axis": null}, "y": {"datum": 0, "type": "quantitative", "axis": null}, "y2": {"datum": 0.15}}},
      {"data": {"values": [{"v": 4.04}, {"v": 4.26}, {"v": 4.45}]}, "mark": {"type": "rule", "color": "#333333", "strokeWidth": 1.2}, "encoding": {"x": {"field": "v", "type": "quantitative", "axis": null}, "y": {"datum": 1, "type": "quantitative", "axis": null}, "y2": {"datum": 1.22}}},
      {"data": {"values": [{"v": 3.80}, {"v": 3.98}, {"v": 4.21}]}, "mark": {"type": "rule", "color": "#333333", "strokeWidth": 1.2}, "encoding": {"x": {"field": "v", "type": "quantitative", "axis": null}, "y": {"datum": 0, "type": "quantitative", "axis": null}, "y2": {"datum": -0.22}}},
      {"mark": {"type": "rule", "color": "#e8372c", "strokeWidth": 1.5}, "encoding": {"x": {"field": "m", "type": "quantitative", "axis": null}, "y": {"datum": 0.08, "type": "quantitative", "axis": null}, "y2": {"datum": 0.92}}},
      {"mark": {"type": "point", "shape": "diamond", "filled": true, "color": "#e8372c", "size": 160, "opacity": 1}, "encoding": {"x": {"field": "m", "type": "quantitative", "axis": null}, "y": {"datum": 0.5, "type": "quantitative", "axis": null}}},
      {"mark": {"type": "text", "align": "right", "fontSize": 10.7, "color": "#333333"}, "encoding": {"x": {"datum": 0.37, "type": "quantitative", "axis": null}, "y": {"datum": 0.5, "type": "quantitative", "axis": null}, "text": {"field": "lo"}}},
      {"mark": {"type": "text", "align": "left", "fontSize": 10.7, "color": "#333333"}, "encoding": {"x": {"datum": 7.31, "type": "quantitative", "axis": null}, "y": {"datum": 0.5, "type": "quantitative", "axis": null}, "text": {"field": "hi"}}},
      {"mark": {"type": "text", "align": "left", "fontSize": 9.5, "color": "#a9a9a9"}, "encoding": {"x": {"datum": 1.1, "type": "quantitative", "axis": null}, "y": {"datum": 0.45, "type": "quantitative", "axis": null}, "text": {"field": "var"}}}
     ]},
    {"width": 544, "height": 277, "view": {"fill": "#f0f0f0", "stroke": null},
     "data": {"values": [{"var": "Nseover", "copy": "© BUSMethodology 2015", "corner": "A", "xt": "Percentile"}]},
     "resolve": {"axis": {"x": "independent", "y": "independent"}},
     "layer": [
      {"mark": {"type": "rule", "color": "#333333", "strokeWidth": 1.3}, "encoding": {
        "x": {"datum": 0, "type": "quantitative", "scale": {"domain": [-23.13, 109.33], "nice": false, "zero": false}, "axis": {"orient": "bottom", "offset": -63.3, "values": [0,10,20,30,40,50,60,70,80,90,100], "domain": false, "grid": false, "title": null, "tickSize": 4, "tickColor": "#333333", "tickWidth": 1.2, "labelFontSize": 9.5, "labelColor": "#333333", "labelPadding": 3, "labelOverlap": false, "labelFlush": false}},
        "y": {"datum": 1, "type": "quantitative", "scale": {"domain": [-0.958, 7.609], "nice": false, "zero": false}, "axis": {"orient": "left", "offset": -95, "values": [1,2,3,4,5,6,7], "labelExpr": "datum.value == 7 ? 'Satisfactory: 7' : datum.value == 1 ? 'Unsatisfactory: 1' : datum.label", "domain": false, "grid": false, "title": null, "tickSize": 4, "tickColor": "#333333", "tickWidth": 1.2, "labelFontSize": 9.5, "labelColor": "#333333", "labelPadding": 13, "labelOverlap": false}},
        "y2": {"datum": 6.95}}},
      {"mark": {"type": "rule", "color": "#333333", "strokeWidth": 1.3}, "encoding": {
        "x": {"datum": 101, "type": "quantitative", "axis": {"orient": "top", "offset": -17.1, "values": [0,10,20,30,40,50,60,70,80,90,100], "labels": false, "domain": false, "grid": false, "title": null, "tickSize": 4, "tickColor": "#333333", "tickWidth": 1.2}},
        "y": {"datum": 1, "type": "quantitative", "axis": {"orient": "right", "offset": -34.2, "values": [1,2,3,4,5,6,7], "labels": false, "domain": false, "grid": false, "title": null, "tickSize": 4, "tickColor": "#333333", "tickWidth": 1.2}},
        "y2": {"datum": 6.95}}},
      {"mark": {"type": "rule", "color": "#333333", "strokeWidth": 1.3}, "encoding": {"x": {"datum": 0, "type": "quantitative", "axis": null}, "x2": {"datum": 101}, "y": {"datum": 1, "type": "quantitative", "axis": null}}},
      {"mark": {"type": "rule", "color": "#333333", "strokeWidth": 1.3}, "encoding": {"x": {"datum": 0, "type": "quantitative", "axis": null}, "x2": {"datum": 100}, "y": {"datum": 7.08, "type": "quantitative", "axis": null}}},
      {"data": {"values": [{"pct": "80", "v": 4.77}, {"pct": "60", "v": 4.40}, {"pct": "40", "v": 4.15}, {"pct": "20", "v": 3.62}]}, "layer": [
        {"mark": {"type": "rule", "color": "#c9a8a8", "strokeWidth": 1.2, "strokeDash": [1.5, 2]}, "encoding": {"x": {"datum": 0, "type": "quantitative", "axis": null}, "x2": {"datum": 101}, "y": {"field": "v", "type": "quantitative", "axis": null}}},
        {"mark": {"type": "text", "align": "left", "fontSize": 7.2, "color": "#c4c4c4", "clip": true}, "encoding": {"x": {"datum": 103, "type": "quantitative", "axis": null}, "y": {"field": "v", "type": "quantitative", "axis": null}, "text": {"field": "pct"}}}
      ]},
      {"data": {"values": [{"v": 4.40, "dir": "upper"}, {"v": 3.77, "dir": "lower"}]}, "layer": [
        {"mark": {"type": "rule", "color": "#2e74aa", "strokeWidth": 2, "strokeDash": [6, 4]}, "encoding": {"x": {"datum": 0, "type": "quantitative", "axis": null}, "x2": {"datum": 101}, "y": {"field": "v", "type": "quantitative", "axis": null}}},
        {"mark": {"type": "point", "filled": false, "color": "#3a80b8", "size": 38, "strokeWidth": 1, "opacity": 1}, "encoding": {"x": {"datum": 1.2, "type": "quantitative", "axis": null}, "y": {"field": "v", "type": "quantitative", "axis": null}, "shape": {"field": "dir", "type": "nominal", "scale": {"domain": ["upper", "lower"], "range": ["M-0.6,0.3L0,1.5L0.6,0.3", "M-0.6,-0.3L0,-1.5L0.6,-0.3"]}, "legend": null}}}
      ]},
      {"data": {"name": "c2b"}, "mark": {"type": "point", "shape": "circle", "filled": false, "color": "#b3b3b3", "size": 82, "strokeWidth": 1, "opacity": 1}, "encoding": {"x": {"field": "p", "type": "quantitative", "axis": null}, "y": {"field": "v", "type": "quantitative", "axis": null}}},
      {"data": {"values": [{"p": 14, "v": 3.27}]}, "mark": {"type": "point", "shape": "circle", "filled": true, "fill": "#e0402f", "stroke": "#222222", "strokeWidth": 2.5, "size": 75, "opacity": 1}, "encoding": {"x": {"field": "p", "type": "quantitative", "axis": null}, "y": {"field": "v", "type": "quantitative", "axis": null}}},
      {"data": {"values": [{"p": 29, "v": 3.96}]}, "mark": {"type": "point", "shape": "M-1,0L1,0M0,-1L0,1", "filled": false, "color": "#222222", "size": 125, "strokeWidth": 1.3, "opacity": 1}, "encoding": {"x": {"field": "p", "type": "quantitative", "axis": null}, "y": {"field": "v", "type": "quantitative", "axis": null}}},
      {"mark": {"type": "text", "align": "left", "fontSize": 9.5, "color": "#cdcdcd"}, "encoding": {"x": {"datum": 1.6, "type": "quantitative", "axis": null}, "y": {"datum": 6.88, "type": "quantitative", "axis": null}, "text": {"field": "var"}}},
      {"mark": {"type": "text", "align": "left", "fontSize": 10.5, "color": "#d2d2d2"}, "encoding": {"x": {"datum": 2, "type": "quantitative", "axis": null}, "y": {"datum": 1.2, "type": "quantitative", "axis": null}, "text": {"field": "copy"}}},
      {"mark": {"type": "text", "align": "center", "fontSize": 10.5, "color": "#d2d2d2"}, "encoding": {"x": {"datum": 98.6, "type": "quantitative", "axis": null}, "y": {"datum": 1.2, "type": "quantitative", "axis": null}, "text": {"field": "corner"}}},
      {"mark": {"type": "text", "align": "center", "fontSize": 9.5, "color": "#333333"}, "encoding": {"x": {"datum": 50, "type": "quantitative", "axis": null}, "y": {"datum": 0, "type": "quantitative", "axis": null}, "text": {"field": "xt"}}}
     ]}
   ]}
  ]}
 ]}
]}
]
}
